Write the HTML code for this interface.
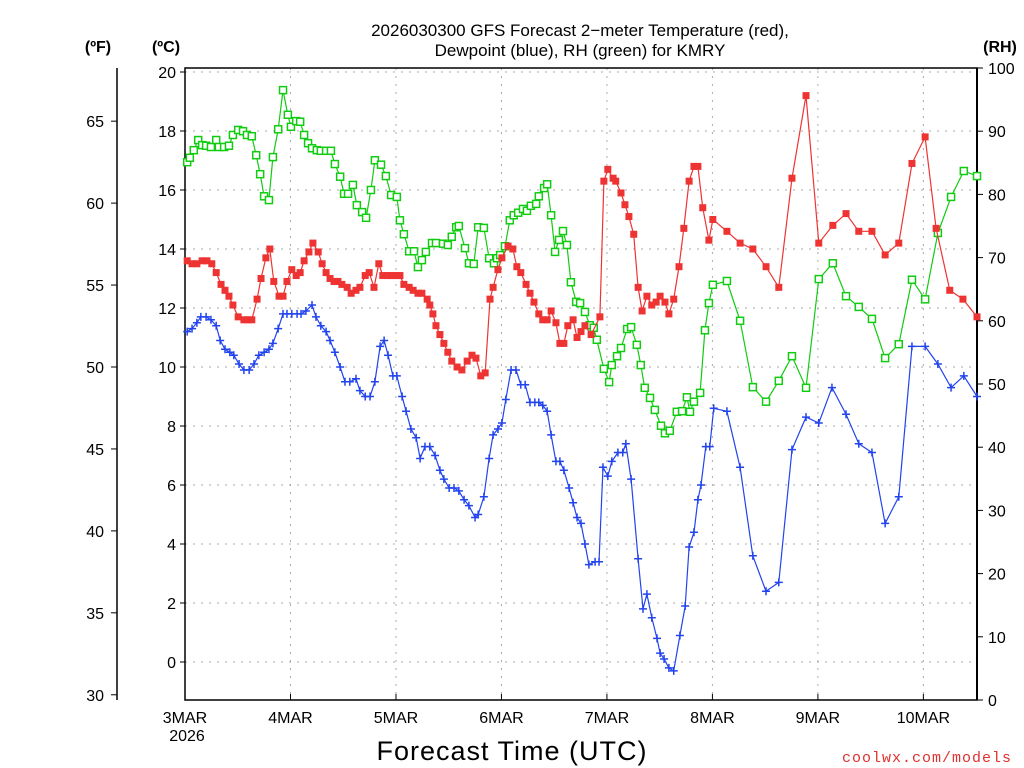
<!DOCTYPE html>
<html><head><meta charset="utf-8"><style>
body{margin:0;background:#fff;width:1024px;height:768px;overflow:hidden}
svg{display:block;font-family:"Liberation Sans",sans-serif}
</style></head><body>
<svg id="chart" width="1024" height="768">
<text x="580" y="36" font-size="17" text-anchor="middle">2026030300 GFS Forecast 2−meter Temperature (red),</text>
<text x="580" y="56" font-size="17" text-anchor="middle">Dewpoint (blue), RH (green) for KMRY</text>
<text x="98" y="52" font-size="16" font-weight="bold" text-anchor="middle">(ºF)</text>
<text x="166" y="52" font-size="16" font-weight="bold" text-anchor="middle">(ºC)</text>
<text x="1000" y="52" font-size="16" font-weight="bold" text-anchor="middle">(RH)</text>
<text x="512" y="760" font-size="27" text-anchor="middle" letter-spacing="1">Forecast Time (UTC)</text>
<text x="1012" y="762" font-size="15" fill="#e03030" text-anchor="end" letter-spacing="1" font-family="Liberation Mono,monospace">coolwx.com/models</text>
<g id="grid"></g><g id="axes"></g><g id="series"></g>
</svg>
<script>
const tempHours=[0.5,1.6,2.7,3.9,5.0,6.1,7.1,8.2,9.1,10.0,10.9,12.1,13.4,14.3,15.2,16.4,17.3,18.4,19.3,20.2,21.4,22.3,23.2,24.3,25.3,26.2,27.1,28.2,29.1,30.3,31.2,32.1,33.0,33.9,34.8,35.7,36.9,37.8,38.9,39.8,41.0,41.9,43.0,44.1,45.0,46.2,47.1,48.0,48.9,49.8,51.0,51.9,53.0,53.9,55.1,55.7,56.4,57.1,58.0,58.9,59.8,60.7,61.9,63.0,64.2,65.3,66.2,67.3,68.3,69.4,70.1,71.2,72.1,73.5,74.6,75.5,76.4,77.6,78.5,79.4,80.5,81.4,82.4,83.3,84.4,85.3,86.2,87.1,88.3,89.2,90.1,91.0,92.4,94.4,95.3,96.2,97.4,98.0,99.2,100.1,101.0,102.1,103.1,104.0,105.1,106.2,107.2,108.1,109.2,110.1,111.2,112.4,113.5,114.7,115.8,116.7,117.8,119.2,120.1,123.3,126.3,129.2,132.2,135.1,138.1,141.3,144.2,147.4,150.4,153.3,156.3,159.3,162.4,165.4,168.4,170.9,174.0,177.0,180.2];
const tempC=[13.6,13.5,13.5,13.6,13.6,13.5,13.2,12.8,12.6,12.4,12.1,11.7,11.6,11.6,11.6,12.3,13.0,13.7,14.0,12.9,12.4,12.4,12.9,13.3,13.1,13.2,13.6,13.9,14.2,13.9,13.5,13.2,13.0,12.9,12.9,12.8,12.7,12.5,12.6,12.7,13.1,13.2,12.7,13.5,13.1,13.1,13.1,13.1,13.1,12.8,12.7,12.6,12.5,12.5,12.3,12.1,11.8,11.4,11.1,10.8,10.5,10.2,10.0,9.9,10.2,10.4,10.3,9.7,9.8,12.3,12.7,13.3,13.7,14.1,14.0,13.4,13.2,12.8,12.5,12.2,11.8,11.6,11.6,11.9,11.5,10.8,10.8,11.4,11.6,11.0,11.2,11.4,11.1,11.7,16.3,16.7,16.4,16.3,15.9,15.5,15.1,14.5,12.7,11.9,12.4,12.1,12.2,12.4,12.2,11.8,12.3,13.4,14.7,16.3,16.8,16.8,15.4,14.3,15.0,14.6,14.2,14.0,13.4,12.7,16.4,19.2,14.2,14.8,15.2,14.6,14.6,13.8,14.2,16.9,17.8,14.7,12.6,12.3,11.7];
const dewHours=[0.5,1.6,2.7,3.6,4.8,5.9,7.1,8.0,9.1,10.2,11.1,12.3,13.4,14.6,15.7,16.8,18.0,19.1,20.0,21.2,22.3,23.2,24.3,25.5,26.4,27.5,28.9,29.8,30.9,32.1,33.0,34.1,35.3,36.4,37.5,38.9,39.8,41.0,42.1,43.2,44.4,45.3,46.2,47.3,48.2,49.4,50.3,51.4,52.6,53.5,54.6,55.7,56.9,58.0,58.9,60.1,61.2,62.3,63.5,64.6,66.0,66.7,68.0,69.2,70.1,71.2,72.1,73.0,74.2,75.3,76.4,77.4,78.5,79.6,80.5,81.4,82.4,83.3,84.4,85.3,86.2,87.4,88.3,89.2,90.1,91.0,91.9,93.3,94.2,95.1,96.2,97.1,98.5,99.6,100.3,101.5,103.1,104.2,105.1,106.2,107.4,108.1,109.0,110.1,111.2,112.6,113.8,114.7,115.8,116.7,117.4,118.5,119.4,120.3,123.3,126.3,129.2,132.2,135.1,138.1,141.3,144.2,147.2,150.4,153.3,156.3,159.3,162.4,165.4,168.4,171.3,174.3,177.2,180.2];
const dewC=[11.2,11.3,11.5,11.7,11.7,11.6,11.4,10.9,10.6,10.5,10.4,10.1,9.9,9.9,10.1,10.4,10.5,10.6,10.8,11.3,11.8,11.8,11.8,11.8,11.8,11.9,12.1,11.7,11.4,11.2,10.9,10.5,10.0,9.5,9.5,9.6,9.2,9.0,9.0,9.5,10.7,10.9,10.4,9.7,9.7,9.0,8.5,7.9,7.6,6.9,7.3,7.3,7.0,6.5,6.2,5.9,5.9,5.8,5.5,5.3,4.9,5.0,5.6,6.9,7.7,7.9,8.1,8.9,9.9,9.9,9.4,9.4,8.8,8.8,8.8,8.7,8.5,7.7,6.8,6.8,6.5,5.9,5.4,4.9,4.7,4.0,3.3,3.4,3.4,6.6,6.3,6.8,7.1,7.1,7.4,6.2,3.5,1.8,2.3,1.5,0.8,0.3,0.1,-0.2,-0.3,0.9,1.9,3.9,4.4,5.5,6.0,7.3,7.3,8.6,8.5,6.6,3.6,2.4,2.7,7.2,8.3,8.1,9.3,8.4,7.4,7.1,4.7,5.6,10.7,10.7,10.1,9.3,9.7,9.0];
const rhHours=[0.5,1.1,2.0,3.0,3.9,4.8,5.9,7.1,7.7,8.9,10.0,10.9,12.1,13.2,14.1,15.2,16.2,17.1,18.0,19.1,20.0,21.2,22.3,23.4,24.1,25.3,26.2,27.1,28.0,28.9,30.0,30.9,32.1,33.2,34.1,35.3,36.2,37.1,38.2,39.1,40.3,41.2,42.3,43.2,44.6,45.7,46.9,48.2,48.9,49.8,51.0,52.1,53.0,53.9,54.8,56.2,57.1,58.7,59.8,60.7,61.7,62.3,63.7,64.6,65.7,66.7,68.0,69.2,70.3,71.0,71.7,72.8,73.9,74.8,75.8,76.9,77.8,78.7,79.9,80.5,81.7,82.4,83.3,84.2,85.1,86.0,86.9,87.8,89.0,89.9,91.0,92.1,93.0,93.7,95.3,96.5,97.1,98.3,99.2,100.6,101.5,102.8,103.7,104.6,105.8,106.9,108.3,109.2,110.3,111.9,113.1,114.2,114.9,115.8,117.2,118.3,119.2,120.1,123.3,126.3,129.2,132.2,135.1,138.1,141.3,144.2,147.4,150.4,153.3,156.3,159.3,162.4,165.4,168.4,171.3,174.3,177.2,180.2];
const rhPct=[85.1,85.8,87.0,88.6,87.8,87.7,87.5,88.6,87.5,87.5,87.7,89.4,90.2,90.0,89.4,89.2,86.2,83.2,79.7,79.1,85.9,90.3,96.5,92.6,90.7,91.6,91.5,89.4,88.1,87.3,87.0,86.9,86.9,86.9,84.8,82.8,80.1,80.1,81.5,78.3,77.2,76.3,80.7,85.4,84.7,82.9,79.9,79.6,75.9,73.7,71.0,71.0,68.5,69.6,70.9,72.3,72.3,72.2,72.0,73.3,74.8,75.0,71.5,69.1,69.0,74.8,74.7,69.9,69.1,69.9,70.4,71.8,75.9,76.7,77.1,77.7,77.4,78.2,78.5,79.7,81.0,81.6,76.7,70.9,72.8,74.2,72.0,66.1,63.0,62.8,61.4,59.3,58.9,57.0,52.4,50.3,53.0,54.4,55.7,58.7,59.0,56.2,53.0,49.4,47.8,45.9,43.4,42.2,42.6,45.6,45.7,47.9,45.6,47.2,48.6,58.5,62.8,65.7,66.3,60.0,49.5,47.2,50.5,54.4,49.4,66.6,69.1,63.9,62.2,60.3,54.1,56.3,66.5,63.4,73.9,79.6,83.7,82.9];
const dayLabels=["3MAR","4MAR","5MAR","6MAR","7MAR","8MAR","9MAR","10MAR"];
const celsiusTicks=[0,2,4,6,8,10,12,14,16,18,20];
const fahrenheitTicks=[30,35,40,45,50,55,60,65];
const rhTicks=[0,10,20,30,40,50,60,70,80,90,100];

const NS="http://www.w3.org/2000/svg";
const X0=185,X1=977,Y0=68,Y1=700,HMAX=180.2;
const xH=h=>X0+(h/HMAX)*(X1-X0);
const yC=c=>662-c*29.5;
const yF=f=>yC((f-32)/1.8);
const yRH=r=>Y1-r*(Y1-Y0)/100;
function mk(tag,attrs,parent){const e=document.createElementNS(NS,tag);for(const k in attrs)e.setAttribute(k,attrs[k]);parent.appendChild(e);return e;}
const grid=document.getElementById('grid'),axes=document.getElementById('axes'),series=document.getElementById('series');

dayLabels.forEach((d,i)=>{
  const x=xH(i*24);
  if(i>0){const g=mk('line',{x1:x,x2:x,y1:Y0,y2:Y1,stroke:'#aaa','stroke-dasharray':'2,6'},grid);
  
  }
  const t=mk('text',{x:x,y:723,'font-size':16,'text-anchor':'middle'},axes);t.textContent=d;
  
  
  mk('line',{x1:x,x2:x,y1:Y1,y2:Y1-6,stroke:'#000'},axes);
});
const yr=mk('text',{x:187,y:741,'font-size':16,'text-anchor':'middle'},axes);yr.textContent="2026";



celsiusTicks.forEach(c=>{
  const y=yC(c);
  const g=mk('line',{x1:X0,x2:X1,y1:y,y2:y,stroke:'#aaa','stroke-dasharray':'2,6'},grid);
  
  
  mk('line',{x1:X0-5,x2:X0,y1:y,y2:y,stroke:'#000'},axes);
  const t=mk('text',{x:X0-9,y:y+6,'font-size':16,'text-anchor':'end'},axes);t.textContent=c;
  
  
});
fahrenheitTicks.forEach(f=>{
  const y=yF(f);
  mk('line',{x1:111,x2:117,y1:y,y2:y,stroke:'#000'},axes);
  const t=mk('text',{x:104,y:y+6,'font-size':16,'text-anchor':'end'},axes);t.textContent=f;
  
  
});
rhTicks.forEach(r=>{
  const y=yRH(r);
  mk('line',{x1:X1,x2:X1+6,y1:y,y2:y,stroke:'#000'},axes);
  const t=mk('text',{x:X1+11,y:y+6,'font-size':16,'text-anchor':'start'},axes);t.textContent=r;
  
  
});
mk('rect',{x:X0,y:Y0,width:X1-X0,height:Y1-Y0,fill:'none',stroke:'#000','stroke-width':1.5},axes);
mk('line',{x1:117,x2:117,y1:Y0,y2:Y1,stroke:'#000','stroke-width':1.5},axes);
mk('line',{x1:X1,x2:X1,y1:Y0,y2:Y1,stroke:'#000','stroke-width':2},axes);

function drawSeries(hours,vals,yf,color,marker,name){
  const n=Math.min(hours.length,vals.length);
  const g=mk('g',{},series);
  
  
  let d='';
  for(let i=0;i<n;i++)d+=(i?'L':'M')+xH(hours[i]).toFixed(1)+','+yf(vals[i]).toFixed(1);
  mk('path',{d:d,fill:'none',stroke:color,'stroke-width':1.2},g);
  for(let i=0;i<n;i++){
    const x=xH(hours[i]),y=yf(vals[i]);let m;
    if(marker==='fill')m=mk('rect',{x:x-3.5,y:y-3.5,width:7,height:7,fill:color},g);
    else if(marker==='open')m=mk('rect',{x:x-3.5,y:y-3.5,width:7,height:7,fill:'#fff',stroke:color,'stroke-width':1.5},g);
    else m=mk('path',{d:`M${x-4},${y}H${x+4}M${x},${y-4}V${y+4}`,stroke:color,'stroke-width':1.5},g);
    
    
  }
}
drawSeries(rhHours,rhPct,yRH,'#11cc11','open','rh-series');
drawSeries(tempHours,tempC,yC,'#ee3333','fill','temperature-series');
drawSeries(dewHours,dewC,yC,'#2244ee','plus','dewpoint-series');
</script>
</body></html>
